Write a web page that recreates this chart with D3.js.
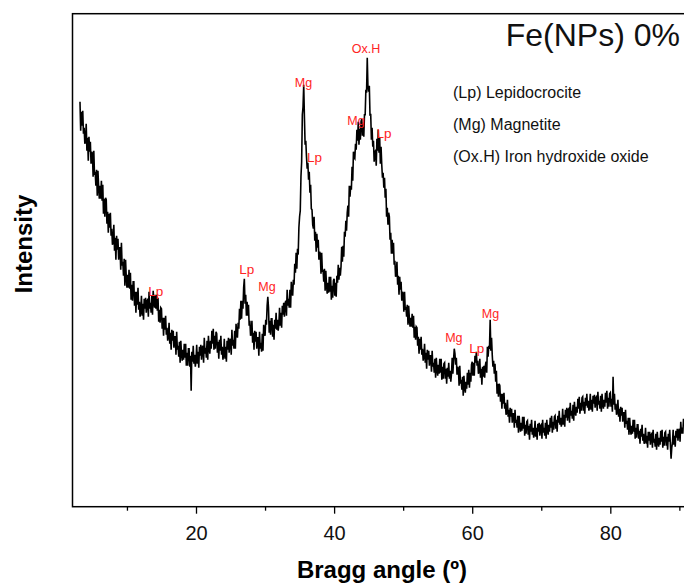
<!DOCTYPE html>
<html>
<head>
<meta charset="utf-8">
<script src="https://cdn.jsdelivr.net/npm/d3@7"></script>
<style>
  body { margin: 0; background: #fff; }
  svg { display: block; font-family: "Liberation Sans", Arial, sans-serif; }
</style>
</head>
<body>
<div id="chart"></div>
<script>
// XRD scan, evenly sampled from 3.2 deg in 0.1 deg steps (arbitrary counts)
const scanStart = 3.2;
const scanStep = 0.1;
const intensity = [
    405, 376, 395, 381, 396, 373, 379, 363,
    366, 383, 356, 369, 346, 370, 355, 365, 343, 355,
    353, 330, 356, 332, 335, 321, 337, 311, 336, 320,
    308, 321, 308, 326, 306, 322, 293, 308, 290, 309,
    307, 283, 295, 274, 293, 279, 294, 271, 278, 262,
    265, 282, 256, 269, 247, 271, 257, 268, 247, 259,
    259, 237, 264, 241, 245, 231, 248, 221, 247, 230,
    219, 232, 219, 237, 218, 234, 207, 222, 206, 225,
    225, 201, 215, 194, 215, 202, 219, 197, 205, 190,
    196, 211, 191, 203, 187, 208, 198, 209, 194, 206,
    207, 190, 215, 198, 204, 194, 211, 192, 216, 205,
    199, 212, 198, 212, 196, 209, 185, 197, 184, 199,
    198, 178, 189, 171, 189, 177, 191, 172, 179, 166,
    170, 184, 163, 174, 157, 177, 166, 176, 159, 170,
    170, 152, 175, 157, 161, 150, 165, 144, 166, 153,
    146, 157, 147, 163, 149, 163, 141, 154, 141, 158,
    158, 140, 151, 116, 155, 145, 161, 143, 152, 140,
    146, 162, 143, 155, 139, 160, 151, 162, 147, 159,
    161, 144, 169, 153, 159, 149, 166, 147, 171, 159,
    153, 166, 158, 176, 163, 178, 157, 171, 158, 175,
    173, 154, 165, 148, 167, 156, 171, 152, 160, 147,
    152, 168, 148, 160, 145, 166, 157, 169, 154, 166,
    168, 152, 177, 161, 167, 158, 176, 158, 183, 173,
    169, 184, 178, 198, 187, 206, 188, 206, 198, 219,
    228, 203, 212, 191, 205, 191, 202, 181, 186, 171,
    173, 186, 164, 174, 157, 176, 165, 175, 158, 169,
    169, 151, 175, 158, 164, 155, 173, 156, 182, 174,
    171, 187, 182, 201, 210, 199, 174, 186, 172, 188,
    188, 170, 182, 167, 187, 178, 194, 177, 187, 176,
    182, 199, 181, 194, 179, 201, 192, 204, 190, 203,
    206, 191, 217, 201, 208, 199, 217, 199, 225, 215,
    211, 227, 222, 243, 234, 254, 238, 258, 252, 279,
    290, 296, 330, 345, 392, 400, 422, 390, 362, 366,
    350, 338, 344, 327, 335, 314, 322, 298, 297, 282,
    278, 290, 266, 275, 255, 273, 259, 267, 247, 255,
    253, 233, 254, 235, 237, 225, 238, 216, 236, 222,
    213, 224, 214, 230, 215, 230, 207, 221, 209, 226,
    228, 211, 224, 210, 231, 224, 242, 227, 239, 231,
    240, 260, 245, 261, 250, 275, 270, 286, 276, 294,
    301, 290, 321, 310, 321, 317, 340, 326, 355, 349,
    348, 363, 357, 377, 366, 385, 362, 378, 367, 385,
    388, 371, 384, 370, 392, 392, 417, 414, 449, 420,
    415, 421, 391, 393, 367, 379, 360, 366, 345, 355,
    356, 341, 368, 356, 377, 354, 369, 343, 360, 342,
    329, 334, 319, 329, 309, 318, 290, 299, 282, 294,
    290, 267, 274, 253, 267, 253, 264, 242, 246, 230,
    232, 245, 222, 231, 212, 230, 217, 225, 206, 215,
    213, 195, 215, 197, 200, 190, 202, 182, 201, 188,
    180, 189, 180, 193, 179, 191, 169, 180, 167, 180,
    179, 161, 170, 153, 168, 157, 170, 152, 158, 146,
    150, 163, 144, 154, 138, 157, 147, 156, 141, 151,
    151, 135, 156, 140, 144, 134, 148, 129, 149, 138,
    131, 142, 133, 148, 134, 148, 127, 140, 128, 143,
    144, 128, 138, 123, 139, 130, 144, 128, 136, 125,
    133, 149, 133, 147, 158, 153, 142, 149, 132, 140,
    138, 121, 141, 123, 127, 117, 130, 111, 131, 120,
    114, 125, 118, 134, 122, 137, 119, 134, 125, 142,
    145, 131, 144, 131, 151, 144, 155, 141, 146, 133,
    136, 148, 129, 138, 122, 140, 130, 141, 129, 141,
    145, 134, 160, 150, 161, 158, 187, 156, 169, 152,
    140, 146, 133, 143, 125, 136, 113, 123, 110, 123,
    121, 105, 113, 98, 113, 103, 114, 98, 104, 92,
    95, 107, 90, 97, 84, 99, 90, 98, 84, 93,
    93, 79, 97, 84, 87, 79, 91, 74, 91, 81,
    75, 84, 76, 90, 78, 90, 71, 82, 73, 85,
    86, 72, 81, 67, 83, 75, 87, 72, 79, 69,
    73, 86, 70, 79, 67, 83, 75, 84, 71, 81,
    82, 68, 87, 74, 79, 71, 84, 68, 87, 77,
    72, 82, 75, 89, 79, 91, 74, 85, 77, 90,
    91, 78, 87, 75, 91, 84, 96, 82, 89, 80,
    84, 98, 82, 92, 80, 97, 89, 99, 86, 97,
    98, 84, 104, 91, 96, 88, 102, 86, 105, 95,
    91, 100, 94, 108, 98, 110, 93, 104, 96, 109,
    110, 96, 105, 93, 109, 101, 113, 99, 106, 96,
    100, 113, 97, 107, 95, 111, 103, 112, 99, 109,
    110, 96, 115, 102, 106, 98, 111, 95, 113, 103,
    98, 107, 100, 114, 104, 116, 98, 109, 100, 113,
    114, 100, 108, 95, 130, 102, 113, 97, 103, 92,
    95, 107, 90, 98, 85, 100, 91, 99, 85, 94,
    94, 79, 97, 83, 86, 77, 89, 72, 89, 78,
    72, 81, 73, 87, 75, 87, 68, 79, 69, 82,
    82, 68, 76, 63, 78, 70, 82, 66, 73, 63,
    66, 79, 63, 71, 59, 75, 66, 75, 62, 72,
    73, 59, 77, 64, 68, 60, 73, 57, 75, 65,
    60, 69, 62, 76, 65, 77, 59, 70, 61, 74,
    75, 61, 70, 57, 73, 65, 77, 62, 48, 59,
    64, 77, 62, 71, 60, 76, 69, 78, 66, 76,
    78, 65, 85, 73, 79, 73, 88
];

// peak annotations
const peakNames = ['Lp', 'Lp', 'Mg', 'Mg', 'Lp', 'Mg', 'Ox.H', 'Lp', 'Mg', 'Lp', 'Mg'];
const peakAngles = [14.16, 27.36, 30.28, 35.57, 37.16, 43.17, 44.62, 47.23, 57.34, 60.65, 62.65];
const peakHeights = [211, 233, 216, 420, 345, 382, 454, 369, 165, 154, 189];

const legendLines = ['(Lp) Lepidocrocite', '(Mg) Magnetite', '(Ox.H) Iron hydroxide oxide'];
const sampleName = 'Fe(NPs) 0%';

const majorTicks = [20, 40, 60, 80];
const minorTicks = [10, 30, 50, 70, 90];

const width = 684;
const height = 586;
const plot = { left: 72.5, top: 13.7, right: 688, bottom: 506.7 };

const points = intensity.map((v, i) => ({ angle: scanStart + i * scanStep, value: v }));

const x = d3.scaleLinear()
    .domain([2.115, 91.25])
    .range([plot.left, plot.right]);

const y = d3.scaleLinear()
    .domain([0, 493])
    .range([plot.bottom, plot.top]);

const svg = d3.select('#chart').append('svg')
    .attr('width', width)
    .attr('height', height);

// frame
svg.append('rect')
    .attr('x', plot.left)
    .attr('y', plot.top)
    .attr('width', plot.right - plot.left)
    .attr('height', plot.bottom - plot.top)
    .attr('fill', 'none')
    .attr('stroke', '#000')
    .attr('stroke-width', 1.5);

// x axis, major + minor ticks
const xAxis = svg.append('g')
    .attr('transform', `translate(0,${plot.bottom})`)
    .call(d3.axisBottom(x).tickValues(majorTicks).tickSize(7).tickPadding(12).tickFormat(d3.format('d')));
xAxis.select('.domain').remove();
xAxis.selectAll('.tick line').attr('stroke-width', 1.3);
xAxis.selectAll('.tick text')
    .attr('font-size', 20)
    .attr('fill', '#111');

const xMinor = svg.append('g')
    .attr('transform', `translate(0,${plot.bottom})`)
    .call(d3.axisBottom(x).tickValues(minorTicks).tickSize(4).tickFormat(''));
xMinor.select('.domain').remove();
xMinor.selectAll('.tick line').attr('stroke-width', 1.3);

// pattern
svg.append('defs').append('clipPath')
    .attr('id', 'clip')
    .append('rect')
    .attr('x', plot.left)
    .attr('y', plot.top)
    .attr('width', plot.right - plot.left)
    .attr('height', plot.bottom - plot.top);

const line = d3.line()
    .x(d => x(d.angle))
    .y(d => y(d.value));

svg.append('path')
    .datum(points)
    .attr('clip-path', 'url(#clip)')
    .attr('d', line)
    .attr('fill', 'none')
    .attr('stroke', '#000')
    .attr('stroke-width', 1.6);

// peak labels
svg.append('g')
    .selectAll('text')
    .data(peakNames)
    .join('text')
    .attr('x', (d, i) => x(peakAngles[i]))
    .attr('y', (d, i) => y(peakHeights[i]))
    .attr('text-anchor', 'middle')
    .attr('font-size', d => d === 'Lp' ? 13.5 : 12.5)
    .attr('fill', '#ff2424')
    .text(d => d);

// title + legend text
svg.append('text')
    .attr('x', 680)
    .attr('y', 46)
    .attr('text-anchor', 'end')
    .attr('font-size', 32)
    .attr('fill', '#111')
    .text(sampleName);

svg.append('g')
    .selectAll('text')
    .data(legendLines)
    .join('text')
    .attr('x', 453)
    .attr('y', (d, i) => 98 + i * 32)
    .attr('font-size', 16)
    .attr('fill', '#111')
    .text(d => d);

// axis titles
svg.append('text')
    .attr('x', 382)
    .attr('y', 578)
    .attr('text-anchor', 'middle')
    .attr('font-size', 24)
    .attr('font-weight', 'bold')
    .text('Bragg angle (º)');

svg.append('text')
    .attr('transform', 'translate(32,244) rotate(-90)')
    .attr('text-anchor', 'middle')
    .attr('font-size', 24)
    .attr('font-weight', 'bold')
    .text('Intensity');
</script>
</body>
</html>
